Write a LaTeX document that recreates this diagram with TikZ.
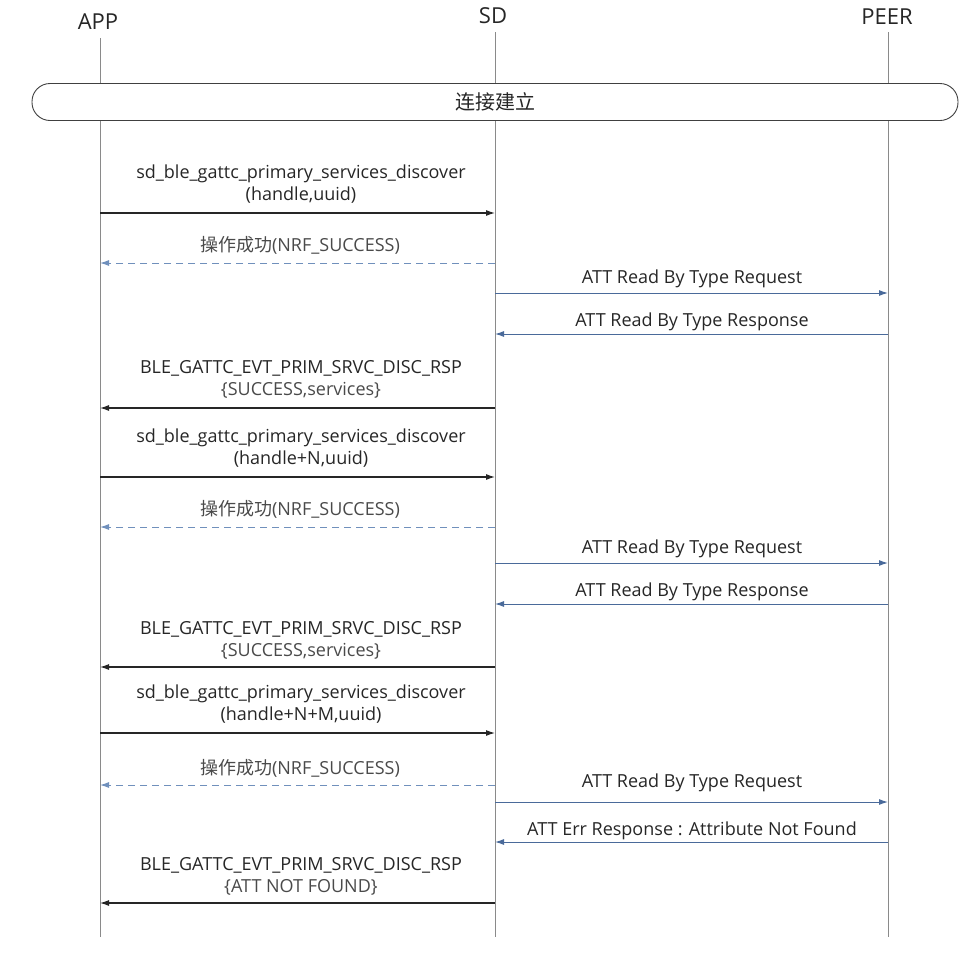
\documentclass[tikz,border=0pt]{standalone}
\usepackage{fontspec}
\setmainfont{Open Sans}
\newfontfamily\cjk{Noto Sans CJK SC}
\usetikzlibrary{arrows.meta}
\definecolor{txt}{HTML}{262626}
\definecolor{lbl}{HTML}{4A4A4A}
\definecolor{msgblue}{HTML}{4A6A9A}
\definecolor{dashblue}{HTML}{7090BC}
\definecolor{life}{HTML}{8A8A8A}
\tikzset{
  hdr/.style={text=txt,font=\fontsize{22}{26}\selectfont,inner sep=0pt},
  lbltext/.style={text=txt,font=\fontsize{18}{22}\selectfont,inner sep=0pt,align=center},
  greytext/.style={text=lbl,font=\fontsize{18}{22}\selectfont,inner sep=0pt},
  lifeline/.style={draw=life,line width=0.8pt},
  callarrow/.style={draw=black!85,line width=1.1pt,-{Latex[length=9pt,width=6pt]}},
  peerarrow/.style={draw=msgblue,line width=1pt,-{Latex[length=9pt,width=6pt]}},
  retarrow/.style={draw=dashblue,line width=1pt,dash pattern=on 7pt off 5pt,-{Latex[length=9pt,width=6pt]}},
  phase/.style={draw=black!75,line width=0.9pt,fill=white,rounded corners=18pt,minimum width=926pt,minimum height=37pt,inner sep=0pt,text=txt,font=\cjk\fontsize{20}{24}\selectfont}
}
\begin{document}
\begin{tikzpicture}[x=1pt,y=-1pt]
\useasboundingbox (0,0) rectangle (975,967);
% headers
\node[hdr] (appH) at (98,22) {APP};
\node[hdr] (sdH) at (493,16) {SD};
\node[hdr] (peerH) at (887,17) {PEER};
% lifeline ends
\coordinate (appB) at (100,937);
\coordinate (sdB) at (495,937);
\coordinate (peerB) at (888,937);
\coordinate (appT) at (100,38);
\coordinate (sdT) at (495,32);
\coordinate (peerT) at (888,32);
\draw[lifeline] (appT) -- (appB);
\draw[lifeline] (sdT) -- (sdB);
\draw[lifeline] (peerT) -- (peerB);
% phase box
\node[phase] (conn) at (495,102) {连接建立};
% message coordinates
\foreach \n/\y in {1/213,2/263,3/293,4/334,5/408,6/477,7/527,8/563,9/604,10/667,11/733,12/785,13/802,14/842,15/903}{
  \coordinate (a\n) at (100,\y);
  \coordinate (s\n) at (495,\y);
  \coordinate (p\n) at (888,\y);
}
% 1
\draw[callarrow] (a1) -- (s1);
\node[lbltext] (l1) at (301,184) {sd\_ble\_gattc\_primary\_services\_discover\\(handle,uuid)};
% 2
\draw[retarrow] (s2) -- (a2);
\node[greytext] (l2) at (300,245) {{\cjk 操作成功}(NRF\_SUCCESS)};
% 3
\draw[peerarrow] (s3) -- (p3);
\node[lbltext] (l3) at (692,279) {ATT Read By Type Request};
% 4
\draw[peerarrow] (p4) -- (s4);
\node[lbltext] (l4) at (692,322) {ATT Read By Type Response};
% 5
\draw[callarrow] (s5) -- (a5);
\node[lbltext] (l5) at (301,379) {BLE\_GATTC\_EVT\_PRIM\_SRVC\_DISC\_RSP\\{\color{lbl}\{SUCCESS,services\}}};
% 6
\draw[callarrow] (a6) -- (s6);
\node[lbltext] (l6) at (301,448) {sd\_ble\_gattc\_primary\_services\_discover\\(handle+N,uuid)};
% 7
\draw[retarrow] (s7) -- (a7);
\node[greytext] (l7) at (300,509) {{\cjk 操作成功}(NRF\_SUCCESS)};
% 8
\draw[peerarrow] (s8) -- (p8);
\node[lbltext] (l8) at (692,549) {ATT Read By Type Request};
% 9
\draw[peerarrow] (p9) -- (s9);
\node[lbltext] (l9) at (692,592) {ATT Read By Type Response};
% 10
\draw[callarrow] (s10) -- (a10);
\node[lbltext] (l10) at (301,640) {BLE\_GATTC\_EVT\_PRIM\_SRVC\_DISC\_RSP\\{\color{lbl}\{SUCCESS,services\}}};
% 11
\draw[callarrow] (a11) -- (s11);
\node[lbltext] (l11) at (301,704) {sd\_ble\_gattc\_primary\_services\_discover\\(handle+N+M,uuid)};
% 12
\draw[retarrow] (s12) -- (a12);
\node[greytext] (l12) at (300,768) {{\cjk 操作成功}(NRF\_SUCCESS)};
% 13
\draw[peerarrow] (s13) -- (p13);
\node[lbltext] (l13) at (692,783) {ATT Read By Type Request};
% 14
\draw[peerarrow] (p14) -- (s14);
\node[lbltext] (l14) at (692,831) {ATT Err Response : Attribute Not Found};
% 15
\draw[callarrow] (s15) -- (a15);
\node[lbltext] (l15) at (301,876) {BLE\_GATTC\_EVT\_PRIM\_SRVC\_DISC\_RSP\\{\color{lbl}\{ATT NOT FOUND\}}};
\end{tikzpicture}
\end{document}
